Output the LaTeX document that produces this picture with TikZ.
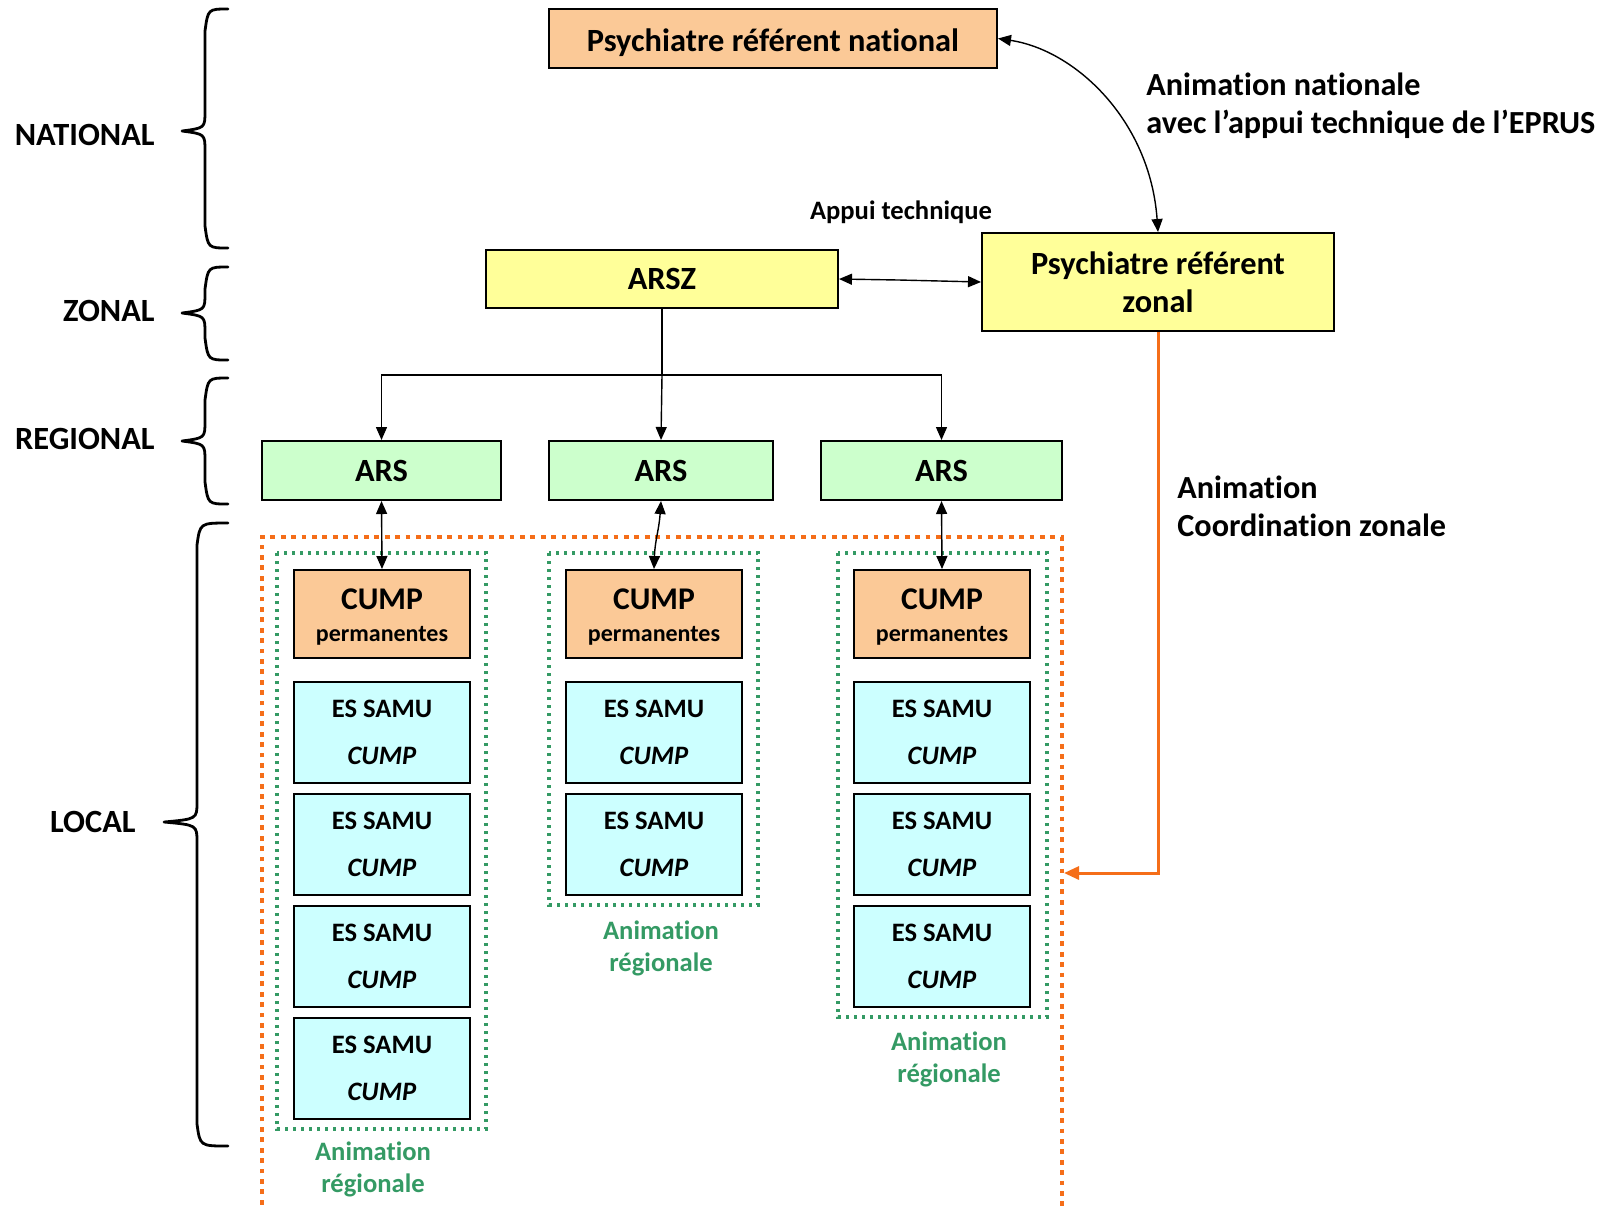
\documentclass[tikz,border=0pt]{standalone}
\usepackage{fontspec}
\setmainfont{Carlito}[Ligatures={NoCommon}]
\usetikzlibrary{arrows.meta,calc}
\definecolor{peach}{RGB}{251,201,151}
\definecolor{yelbox}{RGB}{255,255,153}
\definecolor{grnbox}{RGB}{204,255,204}
\definecolor{cyabox}{RGB}{204,255,255}
\definecolor{orline}{RGB}{245,110,25}
\definecolor{grline}{RGB}{52,154,100}
\newcommand{\lvlbrace}[6]{%
\draw[bracestyle] (#1,#4) .. controls (#2+3,#4) .. (#2,#4+22) -- (#2,#5-20) .. controls (#2,#5-3) .. (#3,#5) .. controls (#2,#5+3) .. (#2,#5+20) -- (#2,#6-22) .. controls (#2+3,#6) .. (#1,#6);}
\newcommand{\cumptext}{\raisebox{0pt}[13pt][2.5pt]{\fontsize{15.8}{17}\selectfont CUMP}\\[-3pt]{\fontsize{12}{17}\selectfont permanentes}}
\tikzset{
  bracestyle/.style={line width=1.4pt, line cap=round, line join=round},
  lvl/.style={font=\fontsize{16.2}{19}\selectfont\bfseries, anchor=east, inner sep=0pt},
  nbox/.style={draw, line width=1pt, inner sep=0pt, align=center, font=\fontsize{16.2}{19}\selectfont\bfseries},
  arsbox/.style={nbox, fill=grnbox, minimum height=29.5pt},
  cumpbox/.style={nbox, fill=peach, minimum width=88pt, minimum height=44pt},
  esbox/.style={nbox, fill=cyabox, minimum width=88pt, minimum height=50.5pt, font=\fontsize{13.3}{23.5}\selectfont\bfseries},
  dbl/.style={{Triangle[length=6.5pt,width=5.5pt]}-{Triangle[length=6.5pt,width=5.5pt]}, line width=0.7pt},
  one/.style={-{Triangle[length=6.5pt,width=5.5pt]}, line width=0.7pt},
  grdot/.style={draw=grline, line width=1.6pt, dash pattern=on 1.6pt off 2.4pt},
  ordot/.style={draw=orline, line width=1.7pt, dash pattern=on 2.4pt off 2.8pt},
  lbl/.style={inner sep=0pt, font=\fontsize{16.1}{19}\selectfont\bfseries, align=left},
  grlbl/.style={inner sep=0pt, text=grline, font=\fontsize{13.3}{16}\selectfont\bfseries, align=center}
}
\begin{document}
\begin{tikzpicture}[x=0.5pt,y=-0.5pt]
\useasboundingbox (0,0) rectangle (1604,1207);

% level labels and braces
\node[lvl] (lnat) at (155,135) {NATIONAL};
\node[lvl] (lzon) at (155,311) {ZONAL};
\node[lvl] (lreg) at (155,439) {REGIONAL};
\node[lvl] (lloc) at (136,822) {LOCAL};
\lvlbrace{228}{205}{182}{9}{131}{248}
\lvlbrace{228}{205}{182}{267}{313}{360}
\lvlbrace{228}{205}{182}{378}{441}{504}
\lvlbrace{228}{197}{164}{523}{822}{1146}

% dotted frames
\draw[ordot] (262,1215) -- (262,537) -- (1062,537) -- (1062,1215);
\draw[grdot] (277,553) rectangle (486,1129);
\draw[grdot] (549,553) rectangle (758,905);
\draw[grdot] (838,553) rectangle (1047,1017);
\coordinate (orin) at (1064,873);

% boxes
\node[nbox, fill=peach, minimum width=224pt, minimum height=29.5pt] (nat) at (773,38.5) {\raisebox{0pt}[14pt][1pt]{Psychiatre référent national}};
\node[nbox, fill=yelbox, minimum width=176pt, minimum height=29pt] (arsz) at (662,279) {ARSZ};
\node[nbox, fill=yelbox, minimum width=176pt, minimum height=49pt] (zon) at (1158,282) {Psychiatre référent\\zonal};
\node[arsbox, minimum width=119.5pt] (ars1) at (381.5,470.5) {ARS};
\node[arsbox, minimum width=112pt] (ars2) at (661,470.5) {ARS};
\node[arsbox, minimum width=120.5pt] (ars3) at (941.5,470.5) {ARS};

\node[cumpbox] (c1) at (382,614) {\cumptext};
\node[cumpbox] (c2) at (654,614) {\cumptext};
\node[cumpbox] (c3) at (942,614) {\cumptext};

\node[esbox] (e11) at (382,732) {ES SAMU\\\textit{CUMP}};
\node[esbox] (e12) at (382,844) {ES SAMU\\\textit{CUMP}};
\node[esbox] (e13) at (382,956) {ES SAMU\\\textit{CUMP}};
\node[esbox] (e14) at (382,1068) {ES SAMU\\\textit{CUMP}};
\node[esbox] (e21) at (654,732) {ES SAMU\\\textit{CUMP}};
\node[esbox] (e22) at (654,844) {ES SAMU\\\textit{CUMP}};
\node[esbox] (e31) at (942,732) {ES SAMU\\\textit{CUMP}};
\node[esbox] (e32) at (942,844) {ES SAMU\\\textit{CUMP}};
\node[esbox] (e33) at (942,956) {ES SAMU\\\textit{CUMP}};

% labels
\node[lbl, anchor=west] (anat) at (1146,106) {Animation nationale\\avec l’appui technique de l’EPRUS};
\node[inner sep=0pt, font=\fontsize{13.3}{16}\selectfont\bfseries] (appui) at (901,212) {Appui technique};
\node[lbl, anchor=west] (azon) at (1177,506) {Animation\\Coordination zonale};
\node[grlbl] (g1) at (373,1169) {Animation\\régionale};
\node[grlbl] (g2) at (661,948) {Animation\\régionale};
\node[grlbl] (g3) at (949,1059) {Animation\\régionale};

% connectors
\draw[dbl] (nat.east) .. controls (1075,50) and (1150,120) .. (zon.north);
\draw[dbl] (arsz.east) -- ($(arsz.east)+(60,1)$) -- (zon.west);
\coordinate (j) at (662,375);
\draw[line width=0.7pt] (arsz.south) -- (j);
\draw[one] (j) -- (ars2.north);
\draw[one] (j) -| (ars1.north);
\draw[one] (j) -| (ars3.north);
\draw[dbl] (ars1.south) -- (c1.north);
\draw[dbl] (ars2.south) .. controls (659,530) and (655,540) .. (c2.north);
\draw[dbl] (ars3.south) -- (c3.north);
\draw[orline, line width=1.5pt, -{Triangle[length=7.5pt,width=6.5pt]}] (zon.south) |- (orin);
\end{tikzpicture}
\end{document}
